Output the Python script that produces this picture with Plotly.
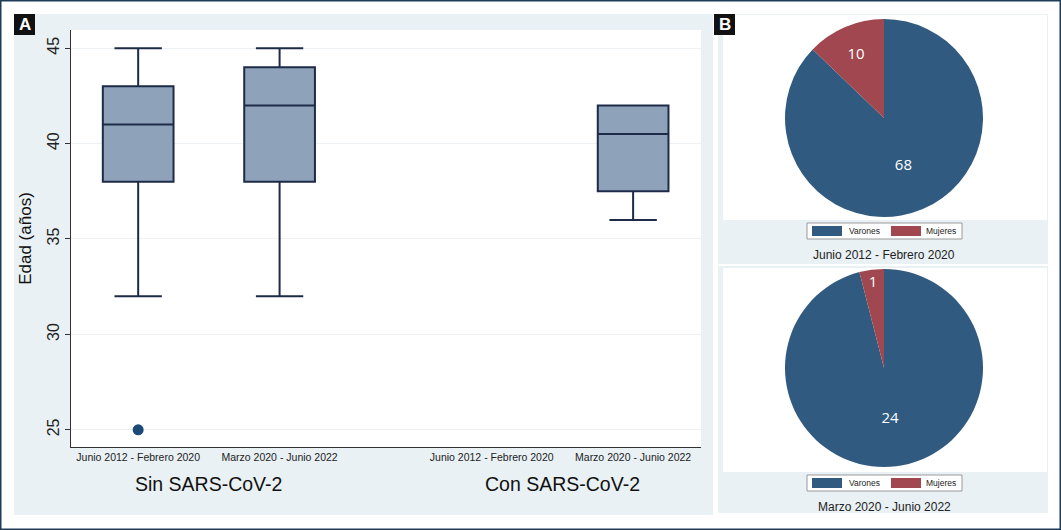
import plotly.graph_objects as go

W, H = 1061, 530

# ---- data ----
periods = ["Junio 2012 - Febrero 2020", "Marzo 2020 - Junio 2022",
           "Junio 2012 - Febrero 2020", "Marzo 2020 - Junio 2022"]
groups = ["Sin SARS-CoV-2", "Con SARS-CoV-2"]
cat_pos = [1, 2, 3.5, 4.5]
box_pos = [1, 2, 4.5]
box_q1 = [38, 38, 37.5]
box_median = [41, 42, 40.5]
box_q3 = [43, 44, 42]
box_low = [32, 32, 36]
box_high = [45, 45, 42]
outlier_x = [1]
outlier_y = [25]
y_ticks = [25, 30, 35, 40, 45]

sex_labels = ["Varones", "Mujeres"]
pie1_values = [68, 10]
pie2_values = [24, 1]
pie_titles = ["Junio 2012 - Febrero 2020", "Marzo 2020 - Junio 2022"]
sex_colors = ["#305a80", "#a0474f"]

FONT = "Liberation Sans, Arial, sans-serif"
NAVY = "#1d2b49"
BG = "#e9f1f5"


def px(x):
    return x / W


def py(y):
    return 1 - y / H


fig = go.Figure()

for i in range(len(box_pos)):
    fig.add_trace(go.Box(
        x=[box_pos[i]], q1=[box_q1[i]], median=[box_median[i]], q3=[box_q3[i]],
        lowerfence=[box_low[i]], upperfence=[box_high[i]],
        width=0.5, whiskerwidth=0.67, boxpoints=False,
        fillcolor="#8ea3ba", line=dict(color=NAVY, width=2),
        showlegend=False, hoverinfo="skip",
        xaxis="x", yaxis="y"))

fig.add_trace(go.Scatter(
    x=outlier_x, y=outlier_y, mode="markers",
    marker=dict(size=11, color="#1b4a78"),
    showlegend=False, hoverinfo="skip"))

# pies
pie_domains = [
    dict(x=[px(785), px(983)], y=[py(217), py(19)]),
    dict(x=[px(785), px(983)], y=[py(467), py(269)]),
]
for vals, dom in zip([pie1_values, pie2_values], pie_domains):
    fig.add_trace(go.Pie(
        labels=sex_labels, values=vals, domain=dom,
        sort=False, direction="clockwise", rotation=0,
        marker=dict(colors=sex_colors, line=dict(width=0)),
        textinfo="value", textposition="inside",
        insidetextorientation="horizontal",
        textfont=dict(family="Open Sans, Noto Sans, sans-serif", size=15, color="white"),
        showlegend=False, hoverinfo="skip"))

shapes = []
# outer border
shapes.append(dict(type="rect", xref="paper", yref="paper", x0=0, x1=1, y0=0, y1=1,
                   line=dict(color="#1f3b5a", width=3), fillcolor="rgba(0,0,0,0)", layer="above"))
# panel A background
shapes.append(dict(type="rect", xref="paper", yref="paper", x0=px(14), x1=px(713),
                   y0=py(515), y1=py(14), line=dict(width=0), fillcolor=BG, layer="below"))
# panel A plot area white
shapes.append(dict(type="rect", xref="paper", yref="paper", x0=px(71), x1=px(701),
                   y0=py(447), y1=py(30), line=dict(width=0), fillcolor="white", layer="below"))
# panel B background
shapes.append(dict(type="rect", xref="paper", yref="paper", x0=px(718), x1=px(1048),
                   y0=py(513), y1=py(14), line=dict(width=0), fillcolor=BG, layer="below"))
# separation between B subpanels
shapes.append(dict(type="line", xref="paper", yref="paper", x0=px(718), x1=px(1048),
                   y0=py(265), y1=py(265), line=dict(color="white", width=2), layer="below"))
# pie white areas
shapes.append(dict(type="rect", xref="paper", yref="paper", x0=px(723), x1=px(1047),
                   y0=py(220), y1=py(15), line=dict(width=0), fillcolor="white", layer="below"))
shapes.append(dict(type="rect", xref="paper", yref="paper", x0=px(723), x1=px(1047),
                   y0=py(472), y1=py(268), line=dict(width=0), fillcolor="white", layer="below"))
# panel letter boxes
for x0 in [14, 714]:
    shapes.append(dict(type="rect", xref="paper", yref="paper", x0=px(x0), x1=px(x0 + 21),
                       y0=py(35), y1=py(14), line=dict(width=0), fillcolor="#111111", layer="above"))


def ann(text, x, y, size, color="#222", xref="paper", family=FONT):
    return dict(text=text, x=x, y=y, xref=xref, yref="paper", xanchor="center",
                yanchor="middle", showarrow=False,
                font=dict(family=family, size=size, color=color))


annotations = []
annotations.append(ann("<b>A</b>", px(24.5), py(24.5), 17, "white"))
annotations.append(ann("<b>B</b>", px(724.5), py(24.5), 17, "white"))

# group labels
for g, cx in zip(groups, [(cat_pos[0] + cat_pos[1]) / 2, (cat_pos[2] + cat_pos[3]) / 2]):
    annotations.append(ann(g, cx, py(484), 19.5, "#111", xref="x"))

# pie legends & titles
for ly, ty, title in [(231, 255, pie_titles[0]), (483, 507, pie_titles[1])]:
    shapes.append(dict(type="rect", xref="paper", yref="paper", x0=px(807), x1=px(962),
                       y0=py(ly + 8), y1=py(ly - 8), line=dict(color="#999", width=1),
                       fillcolor="white", layer="above"))
    for sx, lab, col, tx in [(812, sex_labels[0], sex_colors[0], 864),
                             (891, sex_labels[1], sex_colors[1], 941)]:
        shapes.append(dict(type="rect", xref="paper", yref="paper", x0=px(sx), x1=px(sx + 30),
                           y0=py(ly + 5), y1=py(ly - 5), line=dict(width=0),
                           fillcolor=col, layer="above"))
        annotations.append(ann(lab, px(tx), py(ly), 8.5))
    annotations.append(ann(title, px(884), py(ty), 12))

fig.update_layout(
    width=W, height=H,
    margin=dict(l=0, r=0, t=0, b=0),
    paper_bgcolor="white", plot_bgcolor="rgba(0,0,0,0)",
    shapes=shapes, annotations=annotations,
    xaxis=dict(domain=[px(71), px(701)], range=[0.525, 4.98],
               tickvals=cat_pos, ticktext=periods, showgrid=False, zeroline=False,
               showline=True, linecolor="#333", linewidth=1, ticks="",
               tickfont=dict(family=FONT, size=10.5, color="#222")),
    yaxis=dict(domain=[py(447), py(30)], range=[24.1, 45.95],
               tickvals=y_ticks, showgrid=True, gridcolor="#eef1f3", gridwidth=1,
               zeroline=False, showline=True, linecolor="#333", linewidth=1,
               ticks="outside", ticklen=5, tickcolor="#333", tickangle=-90,
               tickfont=dict(family=FONT, size=16, color="#222"),
               title=dict(text="Edad (años)", font=dict(family=FONT, size=17, color="#111"),
                          standoff=8)),
)

fig.write_html("out.html", config={"displayModeBar": False},
               post_script="document.body.style.margin='0';")
